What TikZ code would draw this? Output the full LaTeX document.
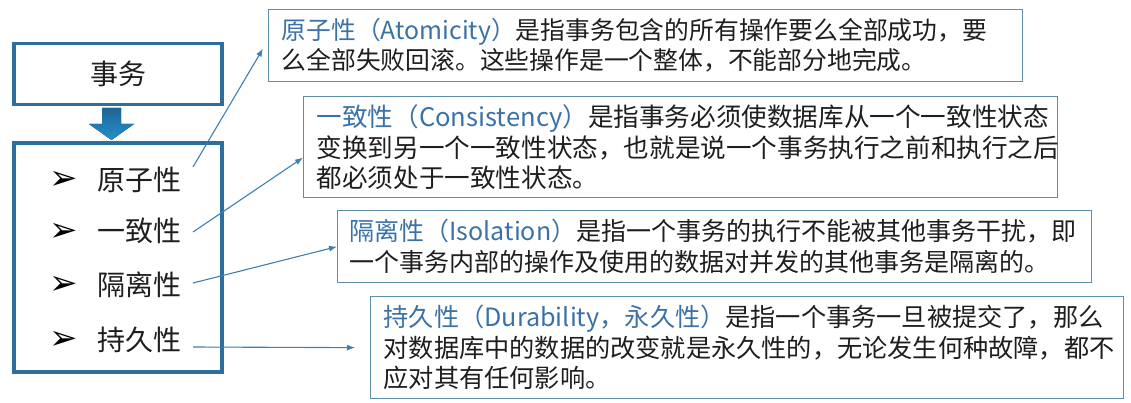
\documentclass[tikz,border=0pt]{standalone}
\usepackage{fontspec}
\setmainfont{Noto Sans CJK SC}
\newfontfamily\dvfont{DejaVu Sans}
\usetikzlibrary{arrows.meta}
\definecolor{boxblue}{HTML}{2C6E9E}
\definecolor{thinbox}{HTML}{5E8FAA}
\definecolor{termblue}{HTML}{3A72A8}
\definecolor{bodytext}{HTML}{1E1E1E}
\definecolor{conncol}{HTML}{3C7FB0}
\definecolor{arrtop}{HTML}{1F6593}
\definecolor{arrbot}{HTML}{2390CF}
\tikzset{
  mainbox/.style={draw=boxblue, line width=3.2pt, inner sep=0pt},
  descbox/.style={draw=thinbox, line width=1.3pt, anchor=north west, align=left,
    inner sep=0pt, text=bodytext},
  itemtext/.style={anchor=west, font=\fontsize{28pt}{30pt}\selectfont, text=bodytext, inner sep=0pt},
  bulletmark/.style={font=\dvfont\fontsize{34pt}{36pt}\selectfont, text=black, inner sep=0pt},
  conn/.style={draw=conncol, line width=1.1pt, -{Latex[length=8pt,width=6pt]}},
}
\newcommand{\term}[1]{\textcolor{termblue}{#1}}
\begin{document}
\begin{tikzpicture}[x=1pt,y=-1pt]
\useasboundingbox (0,0) rectangle (1131,403);

% left boxes
\node[mainbox, minimum width=208pt, minimum height=61pt,
      font=\fontsize{28pt}{30pt}\selectfont, text=bodytext] (tx) at (118,74) {事务};
\fill[top color=arrtop, bottom color=arrbot]
  (102,108) -- (121,108) -- (121,124) -- (134,124) -- (111.5,140) -- (89,124) -- (102,124) -- cycle;
\node[mainbox, minimum width=208pt, minimum height=229pt] (lst) at (118,257.5) {};

\node[bulletmark] (m1) at (64,180) {➢};
\node[bulletmark] (m2) at (64,232) {➢};
\node[bulletmark] (m3) at (64,285) {➢};
\node[bulletmark] (m4) at (64,340) {➢};
\node[itemtext] (i1) at (97,180) {原子性};
\node[itemtext] (i2) at (97,231) {一致性};
\node[itemtext] (i3) at (97,285) {隔离性};
\node[itemtext] (i4) at (97,340) {持久性};

% description boxes
\node[descbox, minimum width=754pt, minimum height=72pt, text width=728pt,
      font=\fontsize{24.8pt}{30pt}\selectfont] (b1) at (268,9)
  {\term{原子性（Atomicity）}是指事务包含的所有操作要么全部成功，要\\
   么全部失败回滚。这些操作是一个整体，不能部分地完成。};
\node[descbox, minimum width=754pt, minimum height=101pt, text width=728pt,
      font=\fontsize{25.6pt}{30.5pt}\selectfont] (b2) at (303,96)
  {\term{一致性（Consistency）}是指事务必须使数据库从一个一致性状态\\
   变换到另一个一致性状态，也就是说一个事务执行之前和执行之后\\
   都必须处于一致性状态。};
\node[descbox, minimum width=754pt, minimum height=72pt, text width=730pt,
      font=\fontsize{25pt}{31pt}\selectfont] (b3) at (337,210)
  {\term{隔离性（Isolation）}是指一个事务的执行不能被其他事务干扰，即\\
   一个事务内部的操作及使用的数据对并发的其他事务是隔离的。};
\node[descbox, minimum width=753pt, minimum height=102pt, text width=727pt,
      font=\fontsize{25.2pt}{30.5pt}\selectfont] (b4) at (370,296)
  {\term{持久性（Durability，永久性）}是指一个事务一旦被提交了，那么\\
   对数据库中的数据的改变就是永久性的，无论发生何种故障，都不\\
   应对其有任何影响。};

% connectors
\coordinate (s1) at (193,167);
\coordinate (s2) at (193,232);
\coordinate (s3) at (193,283);
\coordinate (s4) at (193,347);
\draw[conn] (s1) -- ([xshift=-5pt,yshift=-3pt]b1.west);
\draw[conn] (s2) -- ([yshift=-10.5pt]b2.west);
\draw[conn] (s3) -- (b3.west);
\draw[conn] (s4) -- ([xshift=-15pt]b4.west);
\end{tikzpicture}
\end{document}
